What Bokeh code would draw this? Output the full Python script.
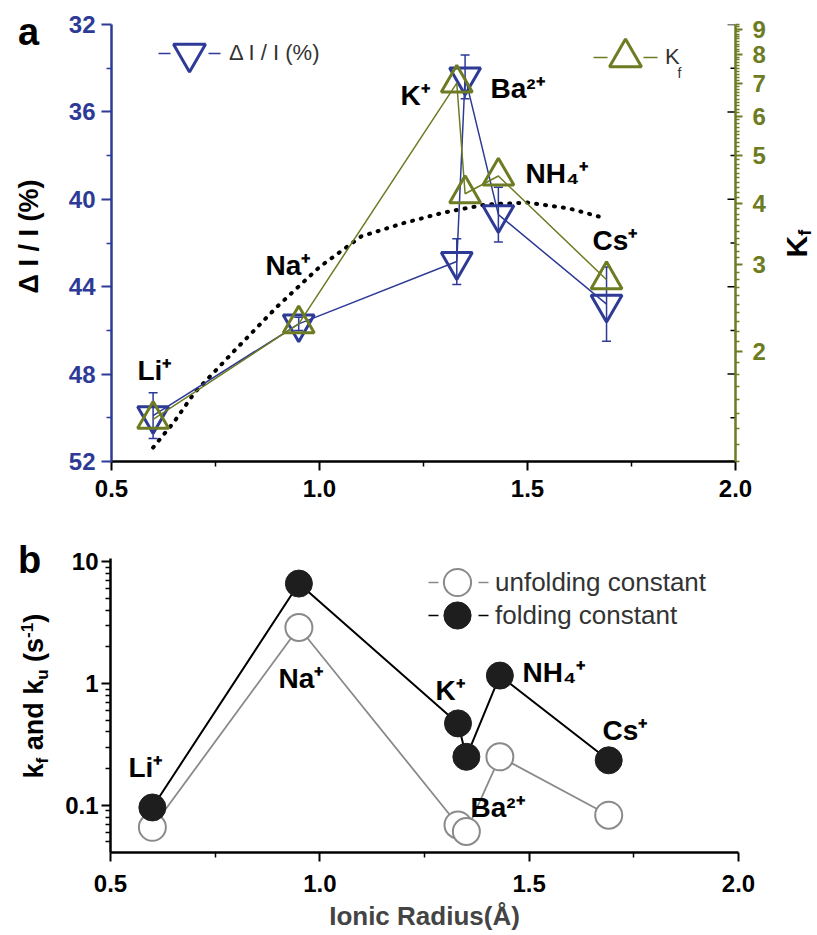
import math
import numpy as np
from bokeh.plotting import figure
from bokeh.layouts import column, row
from bokeh.models import (Range1d, LogScale, LogAxis, FixedTicker, CustomJSTickFormatter,
                          Legend, LegendItem, Label, Whisker, TeeHead, ColumnDataSource)
from bokeh.embed import file_html
from bokeh.resources import INLINE

# ---------------- data ----------------
ions = ["Li⁺", "Na⁺", "K⁺", "Ba²⁺", "NH₄⁺", "Cs⁺"]
radius = [0.60, 0.95, 1.33, 1.35, 1.43, 1.69]
dI = [49.9, 45.7, 42.85, 34.4, 40.7, 44.8]          # ΔI/I (%)
dI_err = [1.05, 0.3, 1.05, 1.0, 1.25, 1.7]
Kf = [1.46, 2.28, 7.0, 4.18, 4.54, 2.80]

fit_x = [0.60, 0.65, 0.70, 0.80, 0.90, 1.00, 1.10, 1.20, 1.30, 1.40, 1.50, 1.60, 1.68]
fit_y = [51.36, 50.2, 48.84, 46.84, 44.88, 43.1, 41.7, 41.1, 40.6, 40.24, 40.15, 40.42, 40.83]

k_unfold = [0.066, 2.88, 0.069, 0.061, 0.25, 0.083]
k_fold = [0.096, 6.6, 0.47, 0.25, 1.16, 0.234]

x_ticks = [0.5, 1.0, 1.5, 2.0]
x_minor = [0.75, 1.25, 1.75]
dI_ticks = [32, 36, 40, 44, 48, 52]
dI_minor = [34, 38, 42, 46, 50]
kf_ticks = [2, 3, 4, 5, 6, 7, 8, 9]
kf_minor = [round(1.2 + 0.1 * i, 1) for i in range(81) if round(1.2 + 0.1 * i, 1) not in kf_ticks]
kb_ticks = [0.1, 1, 10]
kb_minor = [0.05, 0.06, 0.07, 0.08, 0.09] + [0.1 * i for i in range(2, 10)] + list(range(2, 10))

BLUE = "#2d3a96"
OLIVE = "#6d7b22"
GRAY = "#8a8a8a"
DARK = "#1e1e1e"
FONT = "Liberation Sans"
MID = 0.3465        # distance (in em) from the text-box middle down to the baseline

H1 = 515          # height of row a
H2 = 420          # height of row b
STRIP_L = 58
STRIP_R = 42


def style_axis(ax, color, label_color, size="24px", tick_out=9, minor_out=5, standoff=5):
    ax.axis_line_color = color
    ax.axis_line_width = 2.5
    ax.major_tick_line_color = color
    ax.major_tick_line_width = 2
    ax.minor_tick_line_color = color
    ax.minor_tick_line_width = 1.5
    ax.major_tick_out = tick_out
    ax.major_tick_in = 0
    ax.minor_tick_out = minor_out
    ax.minor_tick_in = 0
    ax.major_label_text_color = label_color
    ax.major_label_text_font = FONT
    ax.major_label_text_font_style = "bold"
    ax.major_label_text_font_size = size
    ax.major_label_standoff = standoff


def add_label(p, x, y, text, size, color="black", style="bold", angle=0.0,
              y_range_name="default", align="left"):
    p.add_layout(Label(x=x, y=y, text=text, text_font=FONT, text_font_style=style,
                       text_font_size=f"{size}px", text_color=color, text_align=align,
                       text_baseline="middle", angle=angle, y_range_name=y_range_name))


def strip(w, h, xr, yr):
    s = figure(width=w, height=h, x_range=xr, y_range=yr, title=None,
               output_backend="svg", toolbar_location=None, x_axis_location=None,
               y_axis_location=None, min_border=0)
    s.grid.visible = False
    s.outline_line_color = None
    return s


# ---------------- panel a ----------------
p1 = figure(width=817 - STRIP_L - STRIP_R, height=H1, x_range=Range1d(0.5, 2.0), title=None,
            y_range=Range1d(52, 32), output_backend="svg", toolbar_location=None,
            min_border_left=53, min_border_right=40, min_border_top=24, min_border_bottom=54)
p1.extra_y_ranges = {"kf": Range1d(1.2, 9.2)}
p1.extra_y_scales = {"kf": LogScale()}
p1.grid.visible = False
p1.outline_line_color = None

xa = p1.below[0]
style_axis(xa, "black", "black", tick_out=9, standoff=9)
xa.ticker = FixedTicker(ticks=x_ticks, minor_ticks=x_minor)
xa.formatter = CustomJSTickFormatter(code="return tick.toFixed(1)")

ya = p1.left[0]
style_axis(ya, BLUE, BLUE, tick_out=10, standoff=6)
ya.ticker = FixedTicker(ticks=dI_ticks, minor_ticks=dI_minor)
ya.formatter = CustomJSTickFormatter(code="return tick.toFixed(0)")

ra = LogAxis(y_range_name="kf")
style_axis(ra, OLIVE, OLIVE, tick_out=7, minor_out=4, standoff=10)
ra.ticker = FixedTicker(ticks=kf_ticks, minor_ticks=kf_minor)
ra.formatter = CustomJSTickFormatter(code="return tick.toFixed(0)")
p1.add_layout(ra, "right")

# inward ticks on the right edge mirroring the left axis
px_per_x = 624 / 1.5
rt_y = dI_ticks + dI_minor
rt_len = [8] * len(dI_ticks) + [5] * len(dI_minor)
p1.segment(x0=[2.0] * len(rt_y), y0=rt_y, x1=[2.0 - L / px_per_x for L in rt_len], y1=rt_y,
           line_color="black", line_width=1.5)

# fitted dotted curve
p1.line(fit_x, fit_y, line_color="black", line_width=4, line_dash="1 8", line_cap="round")

# ΔI/I series
p1.line(radius, dI, line_color=BLUE, line_width=1.5)
err_src = ColumnDataSource(dict(x=radius, upper=[v - e for v, e in zip(dI, dI_err)],
                                lower=[v + e for v, e in zip(dI, dI_err)]))
p1.add_layout(Whisker(source=err_src, base="x", upper="upper", lower="lower",
                      line_color=BLUE, line_width=1.5,
                      upper_head=TeeHead(size=9, line_color=BLUE, line_width=1.5),
                      lower_head=TeeHead(size=9, line_color=BLUE, line_width=1.5)))
dI_sc = p1.scatter(radius, dI, marker="inverted_triangle", size=31, fill_color=None,
                   line_color=BLUE, line_width=3)

# Kf series
p1.line(radius, Kf, line_color=OLIVE, line_width=1.5, y_range_name="kf")
kf_sc = p1.scatter(radius, Kf, marker="triangle", size=31, fill_color=None,
                   line_color=OLIVE, line_width=3, y_range_name="kf")

# legend helpers (never-drawn NaN lines give the dashed legend sample)
leg_line_b = p1.line([np.nan], [np.nan], line_color=BLUE, line_width=1.5, line_dash="0 9 12 38 12 9")
leg_line_o = p1.line([np.nan], [np.nan], line_color=OLIVE, line_width=1.5, line_dash="0 8 14 36 14 8",
                     y_range_name="kf")


def make_legend(label, renderers, loc, gw, gh, size, standoff=0):
    return Legend(items=[LegendItem(label=label, renderers=renderers)], location=loc,
                  glyph_width=gw, glyph_height=gh, padding=0, margin=0, spacing=0,
                  label_standoff=standoff, border_line_color=None, background_fill_alpha=0,
                  label_text_font=FONT, label_text_font_size=size, label_text_color="#333333")


p1.add_layout(make_legend("Δ I / I (%)", [leg_line_b, dI_sc], (38, 368), 80, 80, "22px"))
p1.add_layout(make_legend("K", [leg_line_o, kf_sc], (474, 364), 80, 80, "22px"))


def a_x(px):
    return 0.5 + (px - 111) / px_per_x


def a_y(py):
    return 32 + (py - 24) / 21.85


add_label(p1, a_x(677), a_y(77 - MID * 14), "f", 14, color="#333333", style="normal")

# ion labels (left edge, baseline in reference pixels)
a_lab_pos = [(137, 380), (265, 275), (400, 105), (490, 98), (525, 183), (592, 250)]
for t, (px, py) in zip(ions, a_lab_pos):
    add_label(p1, a_x(px), a_y(py - MID * 28), t, 28)

# right strip beside panel a (its frame is aligned with panel a's frame: page y 24..461)
sr = strip(STRIP_R, H1, Range1d(817 - STRIP_R, 817), Range1d(461, 24))
add_label(sr, 806 - MID * 30, 257 - 0.722 * 30 / 2, "K", 30, angle=math.pi / 2, align="center")
add_label(sr, 811 - MID * 18, 257 - 0.722 * 30 - 0.333 * 18 / 2, "f", 18,
          angle=math.pi / 2, align="center")

# ---------------- panel b ----------------
p2 = figure(width=817 - STRIP_L, height=H2, x_range=Range1d(0.5, 2.0), y_range=Range1d(0.041, 10.6),
            y_axis_type="log", output_backend="svg", toolbar_location=None, title=None,
            min_border_left=52, min_border_right=79, min_border_top=43, min_border_bottom=83)
p2.grid.visible = False
p2.outline_line_color = None

xb = p2.below[0]
style_axis(xb, "black", "black", tick_out=9, standoff=13)
xb.ticker = FixedTicker(ticks=x_ticks, minor_ticks=x_minor)
xb.formatter = CustomJSTickFormatter(code="return tick.toFixed(1)")
xb.axis_label = "Ionic Radius(Å)"
xb.axis_label_text_font = FONT
xb.axis_label_text_font_style = "bold"
xb.axis_label_text_font_size = "26px"
xb.axis_label_standoff = 6

yb = p2.left[0]
style_axis(yb, "black", "black", tick_out=9, minor_out=5, standoff=3)
yb.ticker = FixedTicker(ticks=kb_ticks, minor_ticks=kb_minor)
yb.formatter = CustomJSTickFormatter(code="return String(tick)")

p2.line(radius, k_unfold, line_color=GRAY, line_width=1.8)
p2.line(radius, k_fold, line_color="black", line_width=2)
u_sc = p2.scatter(radius, k_unfold, marker="circle", size=27, fill_color="white",
                  line_color=GRAY, line_width=2)
f_sc = p2.scatter(radius, k_fold, marker="circle", size=27, fill_color=DARK,
                  line_color=DARK, line_width=1)

leg_line_g = p2.line([np.nan], [np.nan], line_color=GRAY, line_width=1.5, line_dash="0 5 10 40 10 3")
leg_line_k = p2.line([np.nan], [np.nan], line_color="black", line_width=1.5, line_dash="0 5 10 40 10 3")
p2.add_layout(make_legend("unfolding constant", [leg_line_g, u_sc], (313, 236), 68, 68, "26px", 4))
p2.add_layout(make_legend("folding constant", [leg_line_k, f_sc], (313, 203), 68, 68, "26px", 4))


def b_x(px):
    return 0.5 + (px - 110) / 418.7


def b_y(py):
    return 10 ** ((683 - py) / 122)


b_lab_pos = [(128, 777), (278, 688), (435, 700), (470, 817), (522, 682), (602, 740)]
for t, (px, py) in zip(ions, b_lab_pos):
    add_label(p2, b_x(px), b_y(py - MID * 28), t, 28)

# ---------------- full-height left strip (page pixel coordinates) ----------------
sl = strip(STRIP_L, H1 + H2, Range1d(0, STRIP_L), Range1d(H1 + H2, 0))
add_label(sl, 28, 45 - MID * 38, "a", 38, align="center")
add_label(sl, 38 - MID * 27, 236, "Δ I / I (%)", 27, angle=math.pi / 2, align="center")
add_label(sl, 29, 573 - MID * 38, "b", 38, align="center")

# rotated y title of panel b: k_f and k_u (s⁻¹)
# pieces: text, font size, advance width (em), baseline x (page), gap before (em of 27px)
yl_parts = [("k", 27, 0.556, 43, 0.0), ("f", 17, 0.333, 48, 0.0),
            ("and", 27, 1.778, 43, 0.278), ("k", 27, 0.556, 43, 0.278),
            ("u", 17, 0.611, 48, 0.0), ("(s", 27, 0.889, 43, 0.278),
            ("-1", 17, 0.889, 32, 0.0), (")", 27, 0.333, 43, 0.0)]
y_cur = 778.0
for t, fs, w_em, bx, gap in yl_parts:
    y_cur -= gap * 27
    w = w_em * fs
    add_label(sl, bx - MID * fs, y_cur - w / 2, t, fs, angle=math.pi / 2, align="center")
    y_cur -= w

layout = row(sl, column(row(p1, sr), p2))
open("out.html", "w").write(file_html(layout, INLINE))
